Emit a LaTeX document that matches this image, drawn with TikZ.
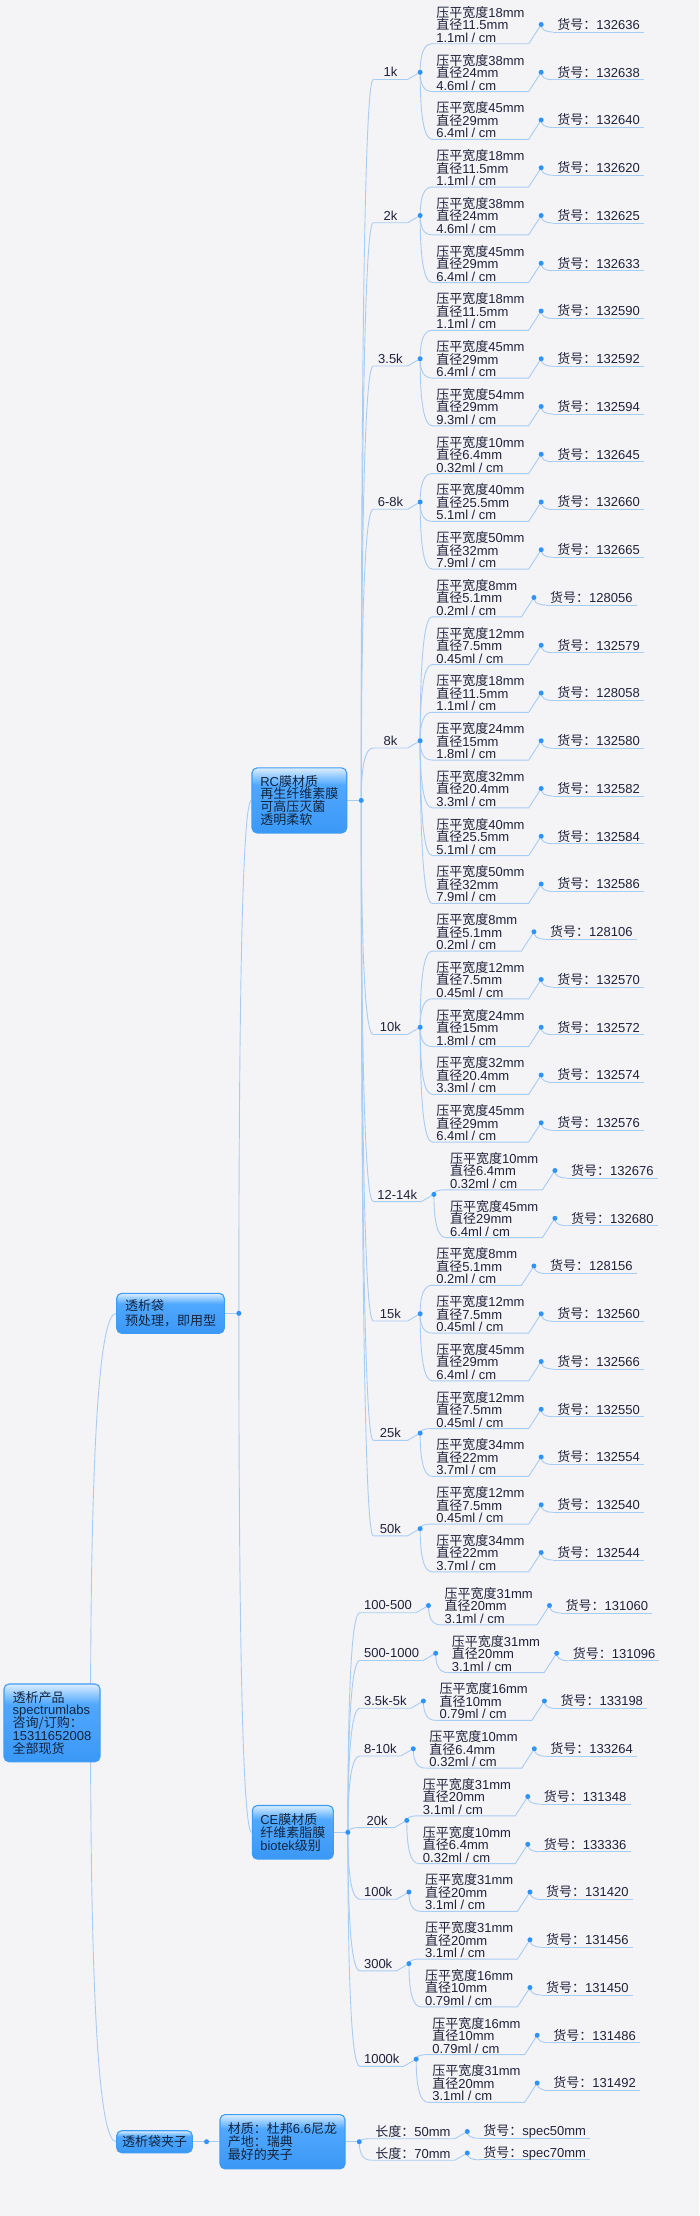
\documentclass[tikz,border=0pt]{standalone}
\usepackage{fontspec}
\setmainfont{Liberation Sans}
\newfontfamily\cjk{Noto Sans CJK SC}
\usetikzlibrary{calc}
\definecolor{bgc}{HTML}{F4F3F6}
\definecolor{lnk}{HTML}{A8CDF3}
\definecolor{dotc}{HTML}{2F94FA}
\definecolor{txt}{HTML}{20223A}
\definecolor{btxt}{HTML}{12243E}
\definecolor{bxa}{HTML}{3A98F6}
\definecolor{bxb}{HTML}{50A8FF}
\definecolor{bxc}{HTML}{98CDFF}
\definecolor{bxd}{HTML}{DDEEFF}
\definecolor{bxe}{HTML}{3E9CF4}
\pgfdeclareverticalshading{boxshade}{100bp}{color(0bp)=(bxa); color(25bp)=(bxa); color(62bp)=(bxb); color(69bp)=(bxc); color(75bp)=(bxd); color(100bp)=(bxd)}
\pgfdeclarelayer{bgl}
\pgfdeclarelayer{lines}
\pgfsetlayers{bgl,lines,main}
\newcommand\lblfont{\fontsize{13}{12.5}\selectfont\lineskiplimit=-100pt\lineskip=0pt\relax}
\newcommand\boxfont{\fontsize{13}{12.8}\selectfont\lineskiplimit=-100pt\lineskip=0pt\relax}
\newcommand\bagfont{\fontsize{13}{15.5}\selectfont\lineskiplimit=-100pt\lineskip=0pt\relax}
\tikzset{
  conn/.style={draw=lnk, line width=0.9pt},
  tdot/.style={circle, fill=dotc, inner sep=0pt, minimum size=5pt},
  bx/.style={shade, shading=boxshade, draw=bxe, line width=1.1pt, rounded corners=5pt, align=left, inner sep=0pt, text=btxt, font=\boxfont},
  lbl/.style={anchor=west, inner xsep=4pt, inner ysep=0pt, align=left, text=txt, font=\lblfont},
  catn/.style={lbl, minimum width=34pt, align=center},
}
% quadratic-like connector from parent point #1 to child point #2
\newcommand\qc[2]{\begin{pgfonlayer}{lines}\draw[conn] (#1) .. controls ($(#1)!0.6667!(#1|-#2)$) and ($(#2)!0.6667!(#1|-#2)$) .. (#2);\end{pgfonlayer}}
% leaf: name, parent dot, text, underline offset
\newcommand\leaf[4]{%
  \path (#2) ++(12,0) coordinate (#1p);
  \node[lbl] (#1) at (#1p) {#3};
  \coordinate (#1a) at ($(#1.west)+(0,#4)$);
  \coordinate (#1b) at ($(#1.east)+(0,#4)$);
  \begin{pgfonlayer}{lines}\draw[conn] (#1a) -- (#1b);\end{pgfonlayer}
  \qc{#2}{#1a}}
% category: [style] name, parent dot, y, text
\newcommand\cat[5][catn]{%
  \path (#3) ++(12,0) coordinate (#2p);
  \path (0,#4) coordinate (#2y);
  \node[#1] (#2) at (#2p |- #2y) {#5};
  \coordinate (#2a) at ($(#2.west)+(0,7.2)$);
  \coordinate (#2b) at ($(#2.east)+(0,7.2)$);
  \coordinate (#2d) at ($(#2.east)+(12.5,0)$);
  \begin{pgfonlayer}{lines}\draw[conn] (#2a) -- (#2b) -- (#2d);\end{pgfonlayer}
  \qc{#3}{#2a}
  \node[tdot] (#2dn) at (#2d) {};}
% spec: name, parent dot, y, width, diameter, volume, number
\newcommand\spec[7]{%
  \path (#2) ++(12,0) coordinate (#1p);
  \path (0,#3) coordinate (#1y);
  \node[lbl] (#1) at (#1p |- #1y) {{\cjk 压平宽度}#4mm\\{\cjk 直径}#5mm\\#6ml / cm};
  \coordinate (#1a) at ($(#1.west)+(0,19.3)$);
  \coordinate (#1b) at ($(#1.east)+(0,19.3)$);
  \coordinate (#1d) at ($(#1.east)+(12.5,0)$);
  \begin{pgfonlayer}{lines}\draw[conn] (#1a) -- (#1b) -- (#1d);\end{pgfonlayer}
  \qc{#2}{#1a}
  \leaf{#1h}{#1d}{{\cjk 货号：}#7}{7.5}
  \node[tdot] (#1dn) at (#1d) {};}
\begin{document}
\begin{tikzpicture}[x=1pt,y=-1pt]
\useasboundingbox (0,0) rectangle (699,2216);
\begin{pgfonlayer}{bgl}\fill[bgc] (0,0) rectangle (699,2216);\end{pgfonlayer}
% boxes
\node[bx, minimum width=96, minimum height=77.7] (root) at (52,1722.85)
  {{\cjk 透析产品}\\spectrumlabs\\{\cjk 咨询/订购：}\\15311652008\\{\cjk 全部现货}};
\node[bx, minimum width=107.6, minimum height=40, font=\bagfont] (bag) at (170.5,1313.3)
  {{\cjk 透析袋}\\{\cjk 预处理，即用型}};
\node[bx, minimum width=94.7, minimum height=65] (rc) at (299.35,800.44)
  {RC{\cjk 膜材质}\\{\cjk 再生纤维素膜}\\{\cjk 可高压灭菌}\\{\cjk 透明柔软}};
\node[bx, minimum width=81, minimum height=53.6] (ce) at (292.8,1832.3)
  {CE{\cjk 膜材质}\\{\cjk 纤维素脂膜}\\biotek{\cjk 级别}};
\node[bx, minimum width=75.6, minimum height=22] (clip) at (154.5,2141.7) {{\cjk 透析袋夹子}};
\node[bx, minimum width=125, minimum height=54.3] (mat) at (282.5,2141.7)
  {{\cjk 材质：杜邦}6.6{\cjk 尼龙}\\{\cjk 产地：瑞典}\\{\cjk 最好的夹子}};
% box dots
\coordinate (rootp) at ($(root.east)+(-10,0)$);
\coordinate (bagd) at ($(bag.east)+(14,0)$);
\coordinate (rcd) at ($(rc.east)+(14,0)$);
\coordinate (ced) at ($(ce.east)+(14,0)$);
\coordinate (clipd) at ($(clip.east)+(13.7,0)$);
\coordinate (matd) at ($(mat.east)+(13.7,0)$);
\begin{pgfonlayer}{lines}
\draw[conn] (bag.east) -- (bagd);
\draw[conn] (rc.east) -- (rcd);
\draw[conn] (ce.east) -- (ced);
\draw[conn] (clip.east) -- (clipd) -- (mat.west);
\draw[conn] (mat.east) -- (matd);
\end{pgfonlayer}
\qc{rootp}{bag.west}
\qc{rootp}{clip.west}
\qc{bagd}{rc.west}
\qc{bagd}{ce.west}
\node[tdot] (bagdn) at (bagd) {};
\node[tdot] (rcdn) at (rcd) {};
\node[tdot] (cedn) at (ced) {};
\node[tdot] (clipdn) at (clipd) {};
\node[tdot] (matdn) at (matd) {};
% RC branch
\cat{c1}{rcd}{72.25}{1k}
\spec{s0}{c1d}{24.5}{18}{11.5}{1.1}{132636}
\spec{s1}{c1d}{72.25}{38}{24}{4.6}{132638}
\spec{s2}{c1d}{120}{45}{29}{6.4}{132640}
\cat{c2}{rcd}{215.5}{2k}
\spec{s3}{c2d}{167.75}{18}{11.5}{1.1}{132620}
\spec{s4}{c2d}{215.5}{38}{24}{4.6}{132625}
\spec{s5}{c2d}{263.25}{45}{29}{6.4}{132633}
\cat{c3}{rcd}{358.75}{3.5k}
\spec{s6}{c3d}{311}{18}{11.5}{1.1}{132590}
\spec{s7}{c3d}{358.75}{45}{29}{6.4}{132592}
\spec{s8}{c3d}{406.5}{54}{29}{9.3}{132594}
\cat{c4}{rcd}{502}{6-8k}
\spec{s9}{c4d}{454.25}{10}{6.4}{0.32}{132645}
\spec{s10}{c4d}{502}{40}{25.5}{5.1}{132660}
\spec{s11}{c4d}{549.75}{50}{32}{7.9}{132665}
\cat{c5}{rcd}{740.75}{8k}
\spec{s12}{c5d}{597.5}{8}{5.1}{0.2}{128056}
\spec{s13}{c5d}{645.25}{12}{7.5}{0.45}{132579}
\spec{s14}{c5d}{693}{18}{11.5}{1.1}{128058}
\spec{s15}{c5d}{740.75}{24}{15}{1.8}{132580}
\spec{s16}{c5d}{788.5}{32}{20.4}{3.3}{132582}
\spec{s17}{c5d}{836.25}{40}{25.5}{5.1}{132584}
\spec{s18}{c5d}{884}{50}{32}{7.9}{132586}
\cat{c6}{rcd}{1027.25}{10k}
\spec{s19}{c6d}{931.75}{8}{5.1}{0.2}{128106}
\spec{s20}{c6d}{979.5}{12}{7.5}{0.45}{132570}
\spec{s21}{c6d}{1027.25}{24}{15}{1.8}{132572}
\spec{s22}{c6d}{1075}{32}{20.4}{3.3}{132574}
\spec{s23}{c6d}{1122.75}{45}{29}{6.4}{132576}
\cat{c7}{rcd}{1194.375}{12-14k}
\spec{s24}{c7d}{1170.5}{10}{6.4}{0.32}{132676}
\spec{s25}{c7d}{1218.25}{45}{29}{6.4}{132680}
\cat{c8}{rcd}{1313.75}{15k}
\spec{s26}{c8d}{1266}{8}{5.1}{0.2}{128156}
\spec{s27}{c8d}{1313.75}{12}{7.5}{0.45}{132560}
\spec{s28}{c8d}{1361.5}{45}{29}{6.4}{132566}
\cat{c9}{rcd}{1433.125}{25k}
\spec{s29}{c9d}{1409.25}{12}{7.5}{0.45}{132550}
\spec{s30}{c9d}{1457}{34}{22}{3.7}{132554}
\cat{c10}{rcd}{1528.625}{50k}
\spec{s31}{c10d}{1504.75}{12}{7.5}{0.45}{132540}
\spec{s32}{c10d}{1552.5}{34}{22}{3.7}{132544}
% CE branch
\cat{e1}{ced}{1605.5}{100-500}
\spec{t0}{e1d}{1605.5}{31}{20}{3.1}{131060}
\cat{e2}{ced}{1653.25}{500-1000}
\spec{t1}{e2d}{1653.25}{31}{20}{3.1}{131096}
\cat{e3}{ced}{1701}{3.5k-5k}
\spec{t2}{e3d}{1701}{16}{10}{0.79}{133198}
\cat{e4}{ced}{1748.75}{8-10k}
\spec{t3}{e4d}{1748.75}{10}{6.4}{0.32}{133264}
\cat{e5}{ced}{1820.375}{20k}
\spec{t4}{e5d}{1796.5}{31}{20}{3.1}{131348}
\spec{t5}{e5d}{1844.25}{10}{6.4}{0.32}{133336}
\cat{e6}{ced}{1892}{100k}
\spec{t6}{e6d}{1892}{31}{20}{3.1}{131420}
\cat{e7}{ced}{1963.625}{300k}
\spec{t7}{e7d}{1939.75}{31}{20}{3.1}{131456}
\spec{t8}{e7d}{1987.5}{16}{10}{0.79}{131450}
\cat{e8}{ced}{2059.125}{1000k}
\spec{t9}{e8d}{2035.25}{16}{10}{0.79}{131486}
\spec{t10}{e8d}{2083}{31}{20}{3.1}{131492}
% clip branch
\cat[lbl]{l1}{matd}{2131.5}{{\cjk 长度：}50mm}
\leaf{l1h}{l1d}{{\cjk 货号：}spec50mm}{6.8}
\cat[lbl]{l2}{matd}{2153}{{\cjk 长度：}70mm}
\leaf{l2h}{l2d}{{\cjk 货号：}spec70mm}{6.8}
\end{tikzpicture}
\end{document}
